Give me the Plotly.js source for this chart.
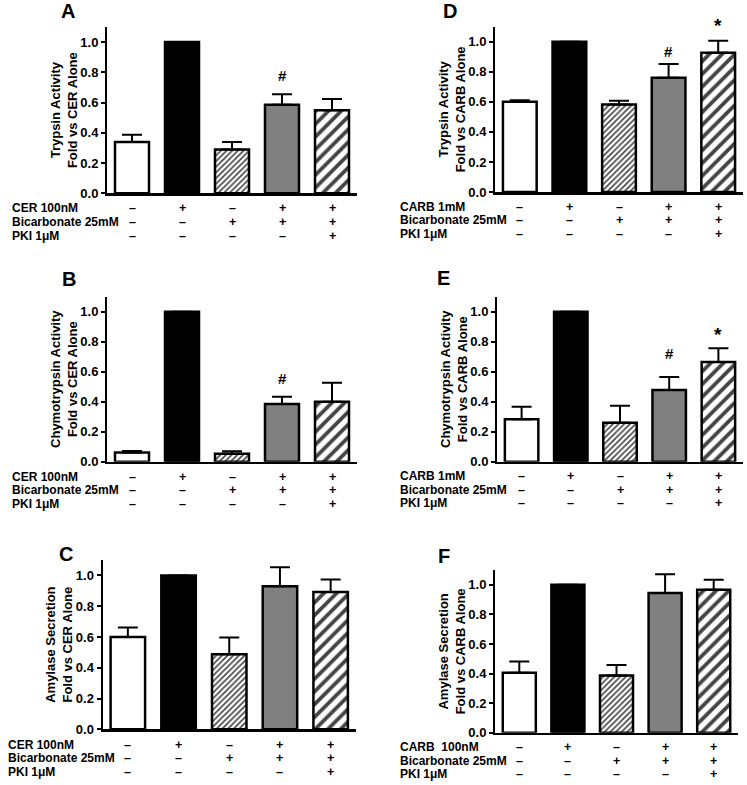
<!DOCTYPE html>
<html>
<head>
<meta charset="utf-8">
<script src="https://cdn.plot.ly/plotly-3.0.1.min.js"></script>
<style>html,body{margin:0;padding:0;background:#fff;}#chart{width:747px;height:785px;}</style>
</head>
<body>
<div id="chart"></div>
<script>
// ---- data ----
var groups = [0, 1, 2, 3, 4];
var stimRow = ['–', '+', '–', '+', '+'];
var bicarbRow = ['–', '–', '+', '+', '+'];
var pkiRow = ['–', '–', '–', '–', '+'];

var trypsinCER = [0.34, 1.0, 0.29, 0.585, 0.55];
var trypsinCERsem = [0.047, 0, 0.049, 0.07, 0.073];
var chymoCER = [0.062, 1.0, 0.053, 0.385, 0.40];
var chymoCERsem = [0.01, 0, 0.016, 0.048, 0.127];
var amylaseCER = [0.60, 1.0, 0.488, 0.93, 0.892];
var amylaseCERsem = [0.061, 0, 0.108, 0.123, 0.082];
var trypsinCARB = [0.60, 1.0, 0.583, 0.76, 0.927];
var trypsinCARBsem = [0.011, 0, 0.024, 0.092, 0.08];
var chymoCARB = [0.283, 1.0, 0.26, 0.478, 0.665];
var chymoCARBsem = [0.084, 0, 0.113, 0.087, 0.091];
var amylaseCARB = [0.406, 1.0, 0.386, 0.944, 0.966];
var amylaseCARBsem = [0.075, 0, 0.072, 0.128, 0.068];

var yTicks = [0, 0.2, 0.4, 0.6, 0.8, 1.0];
var Y_MAX = 1.1;

// panel definitions
var panels = [
  {letter: 'A', y: trypsinCER, e: trypsinCERsem, t1: 'Trypsin Activity', t2: 'Fold vs CER Alone', stim: 'CER 100nM',
   marks: [{i: 3, s: '#', v: 0.78}]},
  {letter: 'B', y: chymoCER, e: chymoCERsem, t1: 'Chymotrypsin Activity', t2: 'Fold vs CER Alone', stim: 'CER 100nM',
   marks: [{i: 3, s: '#', v: 0.556}]},
  {letter: 'C', y: amylaseCER, e: amylaseCERsem, t1: 'Amylase Secretion', t2: 'Fold vs CER Alone', stim: 'CER 100nM',
   marks: []},
  {letter: 'D', y: trypsinCARB, e: trypsinCARBsem, t1: 'Trypsin Activity', t2: 'Fold vs CARB Alone', stim: 'CARB 1mM',
   marks: [{i: 3, s: '#', v: 0.933}, {i: 4, s: '*', v: 1.11}]},
  {letter: 'E', y: chymoCARB, e: chymoCARBsem, t1: 'Chymotrypsin Activity', t2: 'Fold vs CARB Alone', stim: 'CARB 1mM',
   marks: [{i: 3, s: '#', v: 0.72}, {i: 4, s: '*', v: 0.85}]},
  {letter: 'F', y: amylaseCARB, e: amylaseCARBsem, t1: 'Amylase Secretion', t2: 'Fold vs CARB Alone', stim: 'CARB  100nM',
   marks: []}
];

// ---- layout geometry (pixels) ----
var W = 747, H = 785;
var geom = [
  {x0: 107, x1: 357, yTop: 27, yBot: 193.3, rows: [208.3, 221.7, 235.5], labX: 10, letX: 67.5, letY: 11.5},
  {x0: 107, x1: 357, yTop: 296.7, yBot: 461.7, rows: [476.7, 490, 503.5], labX: 10, letX: 69, letY: 278.5},
  {x0: 102.5, x1: 356, yTop: 560, yBot: 729.3, rows: [745, 758.3, 772], labX: 6, letX: 66, letY: 554},
  {x0: 495, x1: 743, yTop: 26.7, yBot: 192, rows: [207, 220.3, 234.3], labX: 398, letX: 450.5, letY: 11.5},
  {x0: 497, x1: 743, yTop: 296.7, yBot: 461.7, rows: [476.3, 489.6, 503.3], labX: 398, letX: 443.5, letY: 278},
  {x0: 495, x1: 738, yTop: 570, yBot: 732.7, rows: [747.3, 760.7, 774], labX: 398, letX: 444, letY: 555.5}
];

var FONT = 'Arial, "Liberation Sans", Helvetica, sans-serif';
var fills = ['#ffffff', '#000000', '#ffffff', '#808080', '#ffffff'];
var patShapes = ['', '', '/', '', '/'];
var patSizes = [8, 8, 4, 8, 9];
var patSolid = [0.3, 0.3, 0.4, 0.3, 0.42];

var traces = [];
var layout = {
  width: W, height: H,
  margin: {l: 0, r: 0, t: 0, b: 0},
  paper_bgcolor: '#ffffff', plot_bgcolor: 'rgba(0,0,0,0)',
  showlegend: false,
  font: {family: FONT, color: '#000', weight: 'bold'},
  annotations: []
};

panels.forEach(function (p, k) {
  var g = geom[k];
  var n = k + 1;
  var xa = 'x' + (n === 1 ? '' : n), ya = 'y' + (n === 1 ? '' : n);
  var xk = 'xaxis' + (n === 1 ? '' : n), yk = 'yaxis' + (n === 1 ? '' : n);
  traces.push({
    type: 'bar', x: groups, y: p.y, xaxis: xa, yaxis: ya, width: 0.68,
    marker: {
      color: fills,
      line: {color: '#000', width: 2.5},
      pattern: {shape: patShapes, size: patSizes, solidity: patSolid, fgcolor: '#000', fgopacity: 1,
        bgcolor: '#fff', fillmode: 'overlay'}
    },
    error_y: {type: 'data', symmetric: false, array: p.e, arrayminus: p.e.map(function () { return 0; }),
      color: '#000', thickness: 2, width: 10},
    hoverinfo: 'skip'
  });
  layout[xk] = {
    domain: [g.x0 / W, g.x1 / W], anchor: ya, range: [-0.5, 4.5],
    showline: true, linecolor: '#000', linewidth: 2.5, showgrid: false, zeroline: false,
    ticks: '', showticklabels: false, fixedrange: true
  };
  layout[yk] = {
    domain: [1 - g.yBot / H, 1 - g.yTop / H], anchor: xa, range: [0, Y_MAX],
    showline: true, linecolor: '#000', linewidth: 2, showgrid: false, zeroline: false,
    ticks: 'outside', ticklen: 4, tickwidth: 2, tickcolor: '#000',
    tickmode: 'array', tickvals: yTicks, tickformat: '.1f',
    tickfont: {family: FONT, size: 13, color: '#000', weight: 'bold'},
    title: {text: p.t1 + '<br>' + p.t2, font: {family: FONT, size: 13, color: '#000', weight: 'bold'}, standoff: 0},
    fixedrange: true
  };
  // treatment rows: labels and +/- signs under each bar
  var rowLabels = [p.stim, 'Bicarbonate 25mM', 'PKI 1μM'];
  var rowSigns = [stimRow, bicarbRow, pkiRow];
  rowLabels.forEach(function (t, r) {
    var yp = 1 - g.rows[r] / H;
    layout.annotations.push({
      xref: 'paper', yref: 'paper', x: g.labX / W, y: yp,
      xanchor: 'left', yanchor: 'middle', showarrow: false, text: t,
      font: {family: FONT, size: 12, color: '#000', weight: 'bold'}
    });
    groups.forEach(function (gi, j) {
      layout.annotations.push({
        xref: xa, yref: 'paper', x: gi, y: yp,
        xanchor: 'center', yanchor: 'middle', showarrow: false, text: rowSigns[r][j],
        font: {family: FONT, size: 12.5, color: '#000', weight: 'bold'}
      });
    });
  });
  // panel letter
  layout.annotations.push({
    xref: 'paper', yref: 'paper', x: g.letX / W, y: 1 - g.letY / H,
    xanchor: 'center', yanchor: 'middle', showarrow: false, text: p.letter,
    font: {family: FONT, size: 20, color: '#000', weight: 'bold'}
  });
  // significance marks (placed in the y-axis domain so they may sit above the range)
  p.marks.forEach(function (m) {
    layout.annotations.push({
      xref: xa, yref: ya + ' domain', x: m.i, y: m.v / Y_MAX, xanchor: 'center', yanchor: 'middle',
      showarrow: false, text: m.s,
      font: {family: FONT, size: m.s === '*' ? 19 : 15, color: '#000', weight: 'bold'}
    });
  });
});

Plotly.newPlot('chart', traces, layout, {displayModeBar: false, staticPlot: true});
</script>
</body>
</html>
